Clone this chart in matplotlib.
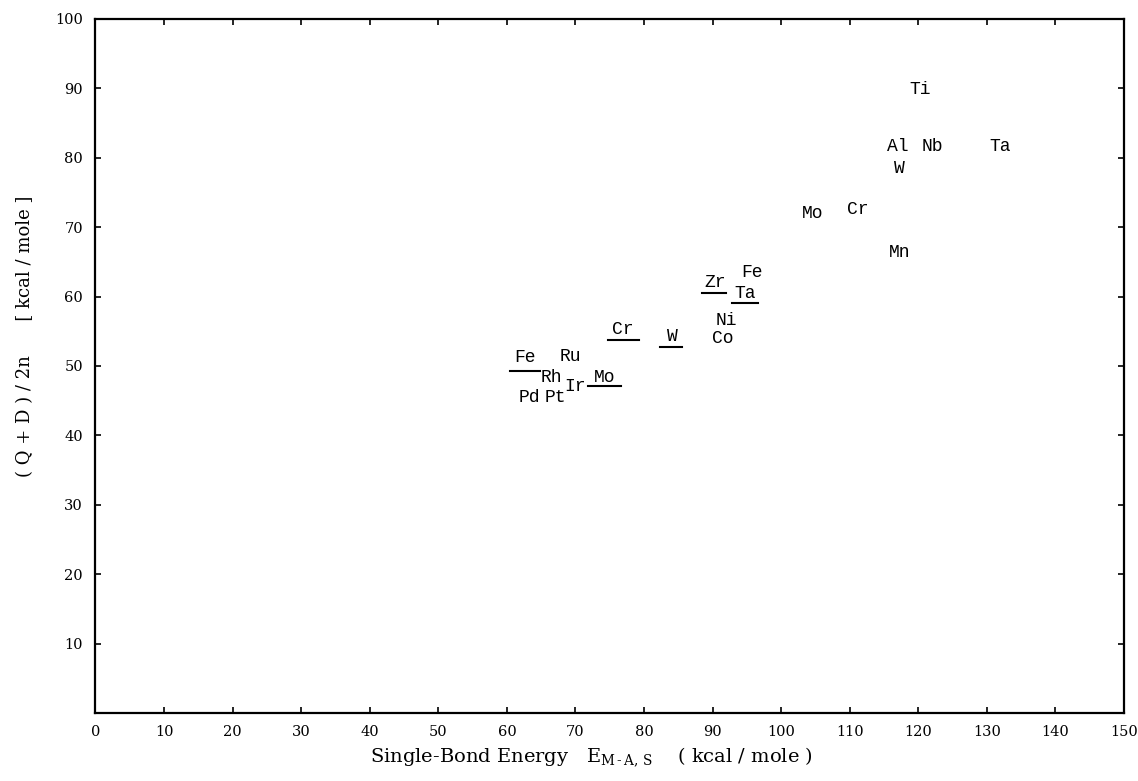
import numpy as np
import matplotlib
matplotlib.use("Agg")
import matplotlib.pyplot as plt

plt.rcParams['mathtext.fontset'] = 'custom'
plt.rcParams['mathtext.rm'] = 'DejaVu Serif'

# element labels placed at (single-bond energy, (Q+D)/2n)
elements = ['Ti', 'Al', 'Nb', 'Ta', 'W', 'Mo', 'Cr', 'Mn',
            'Fe', 'Zr', 'Ta', 'Ni', 'Co', 'Cr', 'W',
            'Fe', 'Ru', 'Rh', 'Ir', 'Mo', 'Pd', 'Pt']
bond_energy = [120.2, 117.0, 122.1, 131.9, 117.3, 104.6, 111.2, 117.3,
               95.8, 90.3, 94.7, 92.0, 91.5, 76.9, 84.2,
               62.6, 69.2, 66.5, 69.9, 74.3, 63.3, 67.0]
q_plus_d = [89.8, 81.6, 81.6, 81.6, 78.5, 72.0, 72.6, 66.4,
            63.5, 62.0, 60.5, 56.6, 54.0, 55.2, 54.2,
            51.2, 51.3, 48.4, 47.0, 48.4, 45.5, 45.5]

# underline bars under some labels (x from, x to, level)
ul_x0 = [88.4, 92.8, 74.7, 82.4, 60.5, 71.8]
ul_x1 = [92.0, 96.6, 79.2, 85.6, 64.8, 76.6]
ul_y = [60.5, 59.1, 53.7, 52.7, 49.3, 47.1]

x_ticks = list(range(0, 151, 10))
y_ticks = list(range(10, 101, 10))

fig = plt.figure(figsize=(11.38, 7.81), dpi=100)
ax = fig.add_axes([0.0839, 0.0871, 0.9038, 0.8886])

for name, xv, yv in zip(elements, bond_energy, q_plus_d):
    ax.text(xv, yv, name, ha='center', va='center', fontsize=13,
            family='Liberation Mono', color='black')

for a, b, c in zip(ul_x0, ul_x1, ul_y):
    ax.plot([a, b], [c, c], color='black', lw=1.5)

ax.set_xlim(0, 150)
ax.set_ylim(0, 100)
ax.set_xticks(x_ticks)
ax.set_yticks(y_ticks)
ax.set_xticklabels([str(t) for t in x_ticks], family='DejaVu Serif', fontsize=10.5)
ax.set_yticklabels([str(t) for t in y_ticks], family='DejaVu Serif', fontsize=10.5)
ax.tick_params(direction='in', length=4, width=1.2, top=True, right=True, pad=9)
# longer marks at 50 and 100
ax.set_xticks([50, 100], minor=True)
ax.set_yticks([50], minor=True)
ax.tick_params(which='minor', direction='in', length=10, width=1.2, top=False, right=True)

for s in ax.spines.values():
    s.set_linewidth(1.6)

fig.text(0.52, 0.03, r"Single-Bond Energy   E$_{\mathregular{M\,\text{-}\,A,\,S}}$    ( kcal / mole )",
         ha='center', va='center', fontsize=14, family='DejaVu Serif')
fig.text(0.022, 0.57, "( Q + D ) / 2n      [ kcal / mole ]", rotation=90,
         ha='center', va='center', fontsize=13, family='DejaVu Serif')

fig.savefig('out.png', dpi=100)
